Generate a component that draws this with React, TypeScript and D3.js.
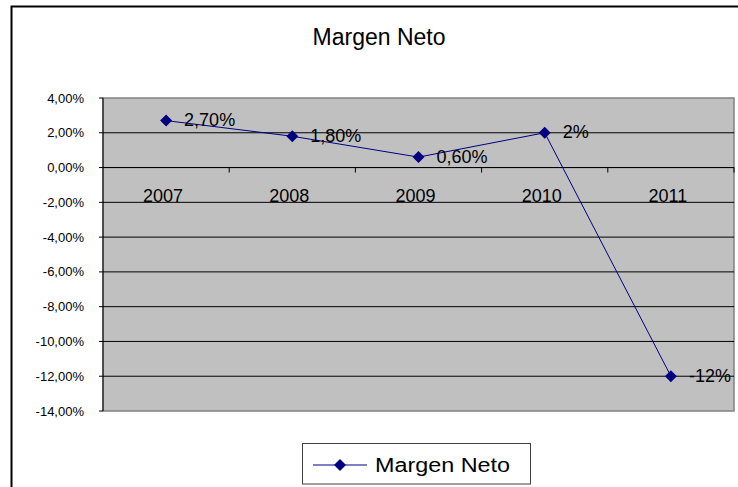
import React from "react";
import * as d3 from "d3";

const categories = ["2007", "2008", "2009", "2010", "2011"];
const values = [2.7, 1.8, 0.6, 2, -12];
const dataLabels = ["2,70%", "1,80%", "0,60%", "2%", "-12%"];
const yTicks = [4, 2, 0, -2, -4, -6, -8, -10, -12, -14];
const seriesName = "Margen Neto";
const title = "Margen Neto";

const W = 738;
const H = 487;
const plot = { left: 103, top: 98, right: 734, bottom: 411 };
const NAVY = "#000080";

function fmtTick(v: number) {
  return v.toFixed(2).replace(".", ",") + "%";
}

function diamond(cx: number, cy: number, r: number) {
  return `M${cx},${cy - r}L${cx + r},${cy}L${cx},${cy + r}L${cx - r},${cy}Z`;
}

export default function App() {
  const x = d3
    .scaleBand<string>()
    .domain(categories)
    .range([plot.left, plot.right])
    .paddingInner(0)
    .paddingOuter(0);
  const y = d3.scaleLinear().domain([-14, 4]).range([plot.bottom, plot.top]);
  const cx = (c: string) => (x(c) as number) + x.bandwidth() / 2;

  const line = d3
    .line<number>()
    .x((_, i) => cx(categories[i]))
    .y((d) => y(d));

  const font = "Arial, 'Liberation Sans', sans-serif";
  const y0 = y(0);

  return (
    <svg
      width={W}
      height={H}
      style={{ position: "fixed", left: 0, top: 0, background: "#fff" }}
      fontFamily={font}
    >
      {/* outer chart frame */}
      <rect x={11.5} y={6.5} width={800} height={600} fill="#fff" stroke="#000" strokeWidth={2} />

      <text x={379} y={45} textAnchor="middle" fontSize={23} fill="#000">
        {title}
      </text>

      {/* plot area */}
      <rect
        x={plot.left}
        y={plot.top}
        width={plot.right - plot.left}
        height={plot.bottom - plot.top}
        fill="#c0c0c0"
        stroke="#808080"
        strokeWidth={1.5}
      />

      {/* gridlines & y ticks */}
      {yTicks.map((t) => (
        <g key={t}>
          {t !== 4 && t !== -14 && (
            <line x1={plot.left} x2={plot.right} y1={y(t)} y2={y(t)} stroke="#000" strokeWidth={1} />
          )}
          <line x1={plot.left - 4} x2={plot.left} y1={y(t)} y2={y(t)} stroke="#000" strokeWidth={1} />
          <text x={84} y={y(t)} dy="0.35em" textAnchor="end" fontSize={13} fill="#000">
            {fmtTick(t)}
          </text>
        </g>
      ))}

      {/* left axis */}
      <line x1={plot.left} x2={plot.left} y1={plot.top} y2={plot.bottom} stroke="#000" strokeWidth={1} />

      {/* x axis at zero with category ticks */}
      <line x1={plot.left} x2={plot.right} y1={y0} y2={y0} stroke="#000" strokeWidth={1} />
      {categories.map((c, i) => (
        <g key={c}>
          {i > 0 && (
            <line x1={x(c)} x2={x(c)} y1={y0} y2={y0 + 5} stroke="#000" strokeWidth={1} />
          )}
          <text x={cx(c) - 3} y={201.5} textAnchor="middle" fontSize={18} fill="#000">
            {c}
          </text>
        </g>
      ))}
      <line x1={plot.right} x2={plot.right} y1={y0} y2={y0 + 5} stroke="#000" strokeWidth={1} />

      {/* series line */}
      <path d={line(values) || ""} fill="none" stroke={NAVY} strokeWidth={1} />
      {values.map((v, i) => (
        <path key={i} d={diamond(cx(categories[i]), y(v), 6)} fill={NAVY} />
      ))}
      {values.map((v, i) => (
        <text
          key={"l" + i}
          x={cx(categories[i]) + 18}
          y={y(v)}
          dy="0.3em"
          fontSize={18}
          fill="#000"
        >
          {dataLabels[i]}
        </text>
      ))}

      {/* legend */}
      <rect x={302.5} y={443.5} width={228} height={40.5} fill="#fff" stroke="#404040" strokeWidth={1} />
      <line x1={313} x2={367} y1={465} y2={465} stroke={NAVY} strokeWidth={1} />
      <path d={diamond(340, 465, 6)} fill={NAVY} />
      <text x={375} y={472} fontSize={20} textLength={135} lengthAdjust="spacingAndGlyphs" fill="#000">
        {seriesName}
      </text>
    </svg>
  );
}
